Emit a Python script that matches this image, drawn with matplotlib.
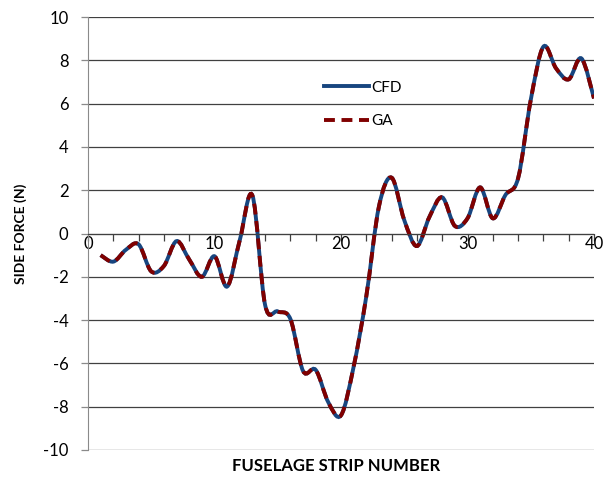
import numpy as np
import matplotlib
matplotlib.use('Agg')
import matplotlib.pyplot as plt
from matplotlib.path import Path
from matplotlib.patches import PathPatch
from matplotlib.lines import Line2D
from matplotlib.ticker import MultipleLocator

plt.rcParams['font.family'] = ['Lato', 'DejaVu Sans']
plt.rcParams['axes.unicode_minus'] = False

# side force per fuselage strip
strip = list(range(1, 41))
cfd = [-1.0, -1.3, -0.75, -0.5, -1.75, -1.5, -0.35, -1.2, -2.0, -1.05,
       -2.45, -0.3, 1.75, -3.3, -3.6, -3.95, -6.35, -6.3, -7.8, -8.4,
       -6.15, -2.9, 1.25, 2.58, 0.62, -0.58, 0.78, 1.67, 0.35, 0.7,
       2.13, 0.7, 1.78, 2.55, 6.17, 8.63, 7.63, 7.12, 8.09, 6.24]
ga = [-1.0, -1.3, -0.75, -0.5, -1.75, -1.5, -0.35, -1.2, -2.0, -1.05,
      -2.45, -0.3, 1.75, -3.3, -3.6, -3.95, -6.35, -6.3, -7.8, -8.4,
      -6.15, -2.9, 1.25, 2.58, 0.62, -0.58, 0.78, 1.67, 0.35, 0.7,
      2.13, 0.7, 1.78, 2.55, 6.17, 8.63, 7.63, 7.12, 8.09, 6.24]
x_labels = ['0', '10', '20', '30', '40']


def smooth_path(xs, ys):
    """Excel-like smoothed line: bezier segments with catmull-rom controls"""
    p = np.column_stack([xs, ys]).astype(float)
    n = len(p)
    verts = [p[0]]
    codes = [Path.MOVETO]
    for i in range(n - 1):
        p0 = p[i - 1] if i > 0 else p[i]
        p3 = p[i + 2] if i + 2 < n else p[i + 1]
        c1 = p[i] + (p[i + 1] - p0) / 6
        c2 = p[i + 1] - (p3 - p[i]) / 6
        verts += [c1, c2, p[i + 1]]
        codes += [Path.CURVE4] * 3
    return Path(verts, codes)


blue = '#17457f'
red = '#800000'

fig = plt.figure(figsize=(6.11, 4.79), dpi=100)
ax = fig.add_axes([88 / 611, 29 / 479, 506 / 611, 433 / 479])

ax.add_patch(PathPatch(smooth_path(strip, cfd), fill=False, color=blue, lw=2.8))
ax.add_patch(PathPatch(smooth_path(strip, ga), fill=False, color=red, lw=2.8,
                       linestyle=(0, (2.8, 1.7))))

ax.set_xlim(0, 40)
ax.set_ylim(-10, 10)
ax.set_yticks(range(-10, 11, 2))
ax.grid(axis='y', color='#404040', lw=0.9)
ax.set_axisbelow(True)

ax.spines['top'].set_visible(False)
ax.spines['right'].set_visible(False)
ax.spines['left'].set_color('#8a8a8a')
ax.spines['bottom'].set_position(('data', 0))
ax.spines['bottom'].set_color('#404040')

ax.set_xticks(range(0, 41, 10))
ax.set_xticklabels(x_labels)
ax.xaxis.set_minor_locator(MultipleLocator(2))
ax.tick_params(axis='x', which='both', direction='out', length=5, width=0.9,
               color='#404040', labelsize=12, pad=-3)
ax.tick_params(axis='y', direction='out', length=5, width=0.9,
               color='#8a8a8a', labelsize=12, pad=9)

ax.set_ylabel('SIDE FORCE (N)', fontsize=10, fontweight='bold')
ax.yaxis.set_label_coords(-0.12, 0.5)
ax.set_xlabel('FUSELAGE STRIP NUMBER', fontsize=12, fontweight='bold')
ax.xaxis.set_label_coords(0.491, -0.018)

handles = [Line2D([], [], color=blue, lw=2.8),
           Line2D([], [], color=red, lw=2.8, linestyle=(0, (2.8, 1.7)))]
ax.legend(handles, ['CFD', 'GA'], loc='upper left',
          bbox_to_anchor=(0.44, 0.885), frameon=False, fontsize=11,
          handlelength=2.9, handletextpad=0.15, labelspacing=1.3)

fig.savefig('out.png', dpi=100)
